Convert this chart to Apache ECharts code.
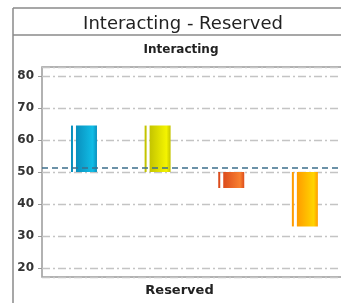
<!DOCTYPE html>
<html>
<head>
<meta charset="utf-8">
<script src="https://cdn.jsdelivr.net/npm/echarts@6/dist/echarts.min.js"></script>
<style>
  html, body { margin: 0; padding: 0; background: #fff; overflow: hidden; }
  #chart { width: 341px; height: 303px; }
</style>
</head>
<body>
<div id="chart"></div>
<script>
// 数据
var categories = ['A', 'B', 'C', 'D'];
var baseValue = 50;
var barValues = [64.5, 64.5, 45, 33];
var refValue = 51.3;
var barColors = [
    ['#0a8fbd', '#10bde6'],
    ['#c4c400', '#f4f400'],
    ['#dc4c1c', '#f88030'],
    ['#ff9c00', '#ffd400']
];

var chart = echarts.init(document.getElementById('chart'));

var barData = barValues.map(function (v, i) {
    return [i + 1, baseValue, v];
});

function renderBar(params, api) {
    var i = params.dataIndex;
    var p1 = api.coord([api.value(0), api.value(1)]);
    var p2 = api.coord([api.value(0), api.value(2)]);
    var w = 26;
    var x0 = p1[0] - w / 2;
    var top = Math.min(p1[1], p2[1]);
    var h = Math.abs(p2[1] - p1[1]);
    var c = barColors[i];
    var grad = new echarts.graphic.LinearGradient(0, 0, 1, 0, [
        { offset: 0, color: c[0] },
        { offset: 0.8, color: c[1] },
        { offset: 1, color: c[0] }
    ]);
    return {
        type: 'group',
        children: [
            { type: 'rect', shape: { x: x0, y: top, width: 2, height: h }, style: { fill: c[0] } },
            { type: 'rect', shape: { x: x0 + 5, y: top, width: w - 5, height: h }, style: { fill: grad } }
        ]
    };
}

var option = {
    animation: false,
    textStyle: { fontFamily: 'DejaVu Sans, Verdana, sans-serif' },
    title: [
        {
            text: 'Interacting - Reserved',
            left: 178, top: 10, textAlign: 'center',
            textStyle: { fontSize: 18, fontWeight: 'normal', color: '#222', fontFamily: 'DejaVu Sans' }
        },
        {
            text: 'Interacting',
            left: 176, top: 39, textAlign: 'center',
            textStyle: { fontSize: 12, fontWeight: 'bold', color: '#222', fontFamily: 'DejaVu Sans' }
        }
    ],
    graphic: [
        { type: 'line', shape: { x1: 13, y1: 8, x2: 13, y2: 303 }, style: { stroke: '#8a8a8a', lineWidth: 1.5 } },
        { type: 'line', shape: { x1: 13, y1: 8, x2: 341, y2: 8 }, style: { stroke: '#8a8a8a', lineWidth: 1.5 } },
        { type: 'line', shape: { x1: 13, y1: 35, x2: 341, y2: 35 }, style: { stroke: '#8a8a8a', lineWidth: 1.5 } }
    ],
    grid: {
        left: 42, width: 310, top: 67, bottom: 26,
        outerBoundsMode: 'none',
        show: true, borderColor: '#999', borderWidth: 1.5
    },
    xAxis: {
        type: 'value',
        min: 0.43, max: 4.64,
        axisLine: { show: false },
        axisTick: { show: false },
        axisLabel: { show: false },
        splitLine: { show: false },
        name: 'Reserved',
        nameLocation: 'middle',
        nameGap: 7,
        nameTextStyle: { fontSize: 13, fontWeight: 'bold', color: '#222', padding: [0, 35, 0, 0] }
    },
    yAxis: {
        type: 'value',
        min: 17.2, max: 82.8,
        splitNumber: 6,
        axisLine: { show: false },
        axisTick: { show: true, length: 4, lineStyle: { color: '#999' } },
        axisLabel: {
            showMinLabel: false, showMaxLabel: false,
            margin: 8, fontSize: 12, fontWeight: 'bold', color: '#333'
        },
        splitLine: {
            lineStyle: { color: '#c4c4c4', width: 1.3, type: [8, 3, 2, 3] }
        }
    },
    series: [
        {
            type: 'custom',
            renderItem: renderBar,
            encode: { x: 0, y: [1, 2] },
            data: barData,
            markLine: {
                silent: true,
                symbol: 'none',
                label: { show: false },
                lineStyle: { color: '#3d6f8c', width: 1.5, type: [6, 4] },
                data: [{ yAxis: refValue }]
            }
        }
    ]
};

chart.setOption(option);
</script>
</body>
</html>
